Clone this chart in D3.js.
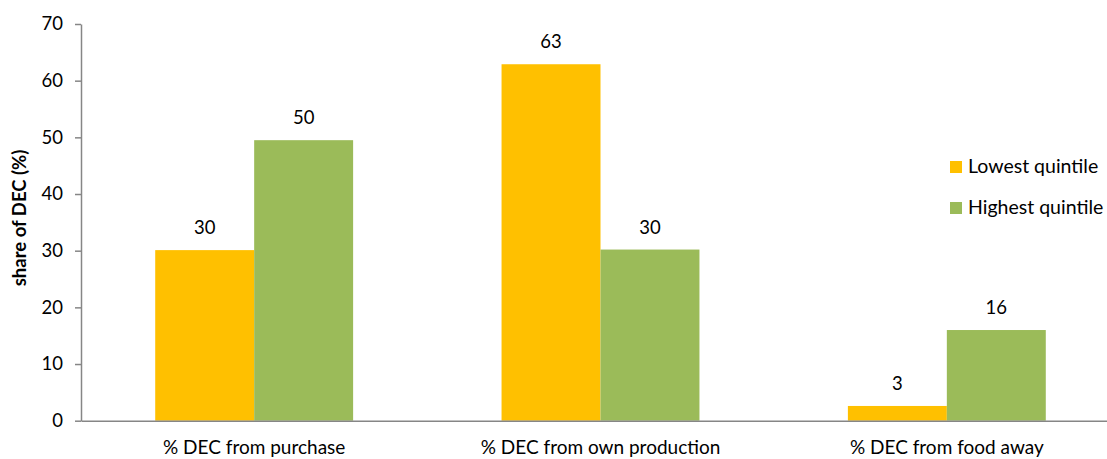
<!DOCTYPE html>
<html>
<head>
<meta charset="utf-8">
<script src="https://cdn.jsdelivr.net/npm/d3@7"></script>
<style>
  html, body { margin: 0; padding: 0; background: #fff; }
  svg { display: block; font-family: Lato, "Open Sans", sans-serif; }
</style>
</head>
<body>
<svg id="chart" width="1107" height="459"></svg>
<script>
// Share of dietary energy consumption by source, lowest vs highest quintile
const categories = ["% DEC from purchase", "% DEC from own production", "% DEC from food away"];
const seriesNames = ["Lowest quintile", "Highest quintile"];
const lowestValues = [30.1, 62.9, 2.6];
const highestValues = [49.5, 30.2, 16.0];
const yTicks = [0, 10, 20, 30, 40, 50, 60, 70];
const seriesColors = ["#FFC000", "#9BBB59"];

const svg = d3.select("#chart");
const plotLeft = 81, plotTop = 24, plotBottom = 420.7, plotRight = 1120;

const x0 = d3.scaleBand().domain(categories).range([plotLeft, plotRight]).paddingInner(0).paddingOuter(0);
const x1 = d3.scaleBand().domain(seriesNames).range([0, x0.bandwidth()]).paddingInner(0).paddingOuter(0.75);
const y = d3.scaleLinear().domain([0, 70]).range([plotBottom, plotTop]);
const color = d3.scaleOrdinal().domain(seriesNames).range(seriesColors);

const rows = categories.map((c, i) => ({
  category: c,
  values: [
    { series: seriesNames[0], value: lowestValues[i] },
    { series: seriesNames[1], value: highestValues[i] }
  ]
}));

// bars
const groups = svg.append("g").selectAll("g").data(rows).join("g")
  .attr("transform", d => `translate(${x0(d.category)},0)`);

groups.selectAll("rect").data(d => d.values).join("rect")
  .attr("x", d => x1(d.series))
  .attr("width", x1.bandwidth())
  .attr("y", d => y(d.value))
  .attr("height", d => y(0) - y(d.value))
  .attr("fill", d => color(d.series));

// value labels
groups.selectAll("text").data(d => d.values).join("text")
  .attr("x", d => x1(d.series) + x1.bandwidth() / 2)
  .attr("y", d => y(d.value) - 16)
  .attr("text-anchor", "middle")
  .attr("font-size", 18.5)
  .attr("fill", "#000")
  .text(d => d3.format(".0f")(d.value));

// y axis
const yAxis = svg.append("g")
  .attr("transform", `translate(${plotLeft},0)`)
  .call(d3.axisLeft(y).tickValues(yTicks).tickSize(6).tickPadding(12).tickSizeOuter(0));
yAxis.select(".domain").attr("stroke", "#868686").attr("stroke-width", 1.5);
yAxis.selectAll(".tick line").attr("stroke", "#868686").attr("stroke-width", 1.5);
yAxis.selectAll(".tick text").attr("font-size", 18.5).attr("fill", "#000")
  .attr("font-family", "Lato, 'Open Sans', sans-serif");

// x axis
const xAxis = svg.append("g")
  .attr("transform", `translate(0,${plotBottom})`)
  .call(d3.axisBottom(x0).tickSize(0).tickPadding(20).tickSizeOuter(0));
xAxis.select(".domain").attr("stroke", "#868686").attr("stroke-width", 1.5);
xAxis.selectAll(".tick text").attr("font-size", 19).attr("fill", "#000")
  .attr("font-family", "Lato, 'Open Sans', sans-serif");

// y axis title
svg.append("text")
  .attr("transform", `translate(26,218) rotate(-90)`)
  .attr("text-anchor", "middle")
  .attr("font-size", 18.5)
  .attr("font-weight", "bold")
  .attr("fill", "#000")
  .text("share of DEC (%)");

// legend
const legend = svg.append("g").selectAll("g").data(seriesNames).join("g")
  .attr("transform", (d, i) => `translate(950,${161 + i * 41})`);
legend.append("rect")
  .attr("width", 12).attr("height", 12)
  .attr("fill", d => color(d));
legend.append("text")
  .attr("x", 18).attr("y", 12)
  .attr("font-size", 19.5)
  .attr("fill", "#000")
  .text(d => d);
</script>
</body>
</html>
